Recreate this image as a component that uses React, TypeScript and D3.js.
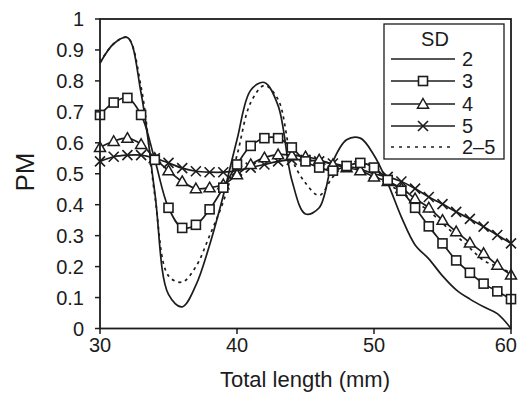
import React from "react";
import * as d3 from "d3";

const lengths = d3.range(30, 61);
const sd2 = [0.857, 0.92, 0.94, 0.76, 0.44, 0.11, 0.07, 0.14, 0.27, 0.43, 0.61, 0.77, 0.795, 0.72, 0.48, 0.37, 0.39, 0.54, 0.61, 0.615, 0.56, 0.47, 0.36, 0.27, 0.225, 0.17, 0.125, 0.095, 0.07, 0.048, 0.0];
const sd3 = [0.69, 0.73, 0.745, 0.69, 0.545, 0.39, 0.325, 0.335, 0.385, 0.455, 0.53, 0.59, 0.615, 0.615, 0.585, 0.54, 0.52, 0.51, 0.525, 0.535, 0.52, 0.48, 0.445, 0.39, 0.33, 0.275, 0.22, 0.18, 0.145, 0.12, 0.095];
const sd4 = [0.585, 0.605, 0.615, 0.595, 0.55, 0.51, 0.475, 0.452, 0.455, 0.465, 0.497, 0.53, 0.552, 0.562, 0.56, 0.555, 0.545, 0.53, 0.52, 0.51, 0.49, 0.475, 0.453, 0.42, 0.39, 0.35, 0.313, 0.277, 0.243, 0.205, 0.173];
const sd5 = [0.54, 0.555, 0.56, 0.56, 0.55, 0.535, 0.518, 0.508, 0.505, 0.505, 0.51, 0.52, 0.53, 0.54, 0.545, 0.545, 0.54, 0.533, 0.525, 0.515, 0.5, 0.49, 0.475, 0.452, 0.425, 0.402, 0.377, 0.354, 0.329, 0.302, 0.275];
const sd25 = [0.86, 0.92, 0.94, 0.78, 0.43, 0.17, 0.15, 0.2, 0.3, 0.41, 0.56, 0.73, 0.785, 0.74, 0.55, 0.47, 0.43, 0.49, 0.53, 0.54, 0.52, 0.47, 0.44, 0.41, 0.38, 0.34, 0.3, 0.26, 0.22, 0.2, 0.18];

const yTicks = [0, 0.1, 0.2, 0.3, 0.4, 0.5, 0.6, 0.7, 0.8, 0.9, 1];
const yTickLabels = ["0", "0.1", "0.2", "0.3", "0.4", "0.5", "0.6", "0.7", "0.8", "0.9", "1"];
const xTicks = [30, 40, 50, 60];
const legendTitle = "SD";
const legendLabels = ["2", "3", "4", "5", "2\u20135"];

const INK = "#1c1c1c";
const FONT = "'Liberation Sans', Arial, Helvetica, sans-serif";

type Marker = "none" | "square" | "triangle" | "cross";

function MarkerShape({ type, x, y }: { type: Marker; x: number; y: number }) {
  if (type === "square") {
    return <rect x={x - 4.5} y={y - 4.5} width={9} height={9} fill="#fff" stroke={INK} strokeWidth={1.6} />;
  }
  if (type === "triangle") {
    const s = 5.5;
    return (
      <path
        d={`M${x},${y - s}L${x + s},${y + s * 0.75}L${x - s},${y + s * 0.75}Z`}
        fill="#fff"
        stroke={INK}
        strokeWidth={1.5}
      />
    );
  }
  if (type === "cross") {
    const s = 5;
    return (
      <path d={`M${x - s},${y - s}L${x + s},${y + s}M${x - s},${y + s}L${x + s},${y - s}`} stroke={INK} strokeWidth={1.6} />
    );
  }
  return null;
}

export default function App() {
  const W = 518;
  const H = 397;
  const x = d3.scaleLinear().domain([30, 60]).range([100, 511]);
  const y = d3.scaleLinear().domain([0, 1]).range([328.5, 19]);

  const line = d3
    .line<[number, number]>()
    .x((d) => x(d[0]))
    .y((d) => y(d[1]))
    .curve(d3.curveCatmullRom.alpha(0.5));

  const series: { vals: number[]; marker: Marker; dash?: string }[] = [
    { vals: sd25, marker: "none", dash: "3,4" },
    { vals: sd2, marker: "none" },
    { vals: sd5, marker: "cross" },
    { vals: sd4, marker: "triangle" },
    { vals: sd3, marker: "square" },
  ];

  const legendItems: { marker: Marker; dash?: string }[] = [
    { marker: "none" },
    { marker: "square" },
    { marker: "triangle" },
    { marker: "cross" },
    { marker: "none", dash: "3,5" },
  ];
  const legendY = [59, 81, 104, 126, 147];

  return (
    <svg width={W} height={H} style={{ position: "absolute", left: 0, top: 0, background: "#fff" }} fontFamily={FONT}>
      <rect x={0} y={0} width={W} height={H} fill="#fff" />
      {/* series */}
      {series.map((s, i) => (
        <g key={i}>
          <path
            d={line(lengths.map((l, j) => [l, s.vals[j]] as [number, number])) || ""}
            fill="none"
            stroke={INK}
            strokeWidth={1.7}
            strokeDasharray={s.dash}
          />
          {s.marker !== "none" &&
            lengths.map((l, j) => <MarkerShape key={j} type={s.marker} x={x(l)} y={y(s.vals[j])} />)}
        </g>
      ))}
      {/* frame */}
      <rect x={100} y={19} width={411} height={309.5} fill="none" stroke={INK} strokeWidth={1.8} />
      {/* y ticks */}
      {yTicks.map((t, i) => (
        <g key={t}>
          <line x1={95} x2={100} y1={y(t)} y2={y(t)} stroke={INK} strokeWidth={1.5} />
          <text x={84} y={y(t)} dy="0.35em" textAnchor="end" fontSize={20} fill={INK}>
            {yTickLabels[i]}
          </text>
        </g>
      ))}
      {/* x ticks */}
      {xTicks.map((t, i) => (
        <g key={t}>
          <line x1={x(t)} x2={x(t)} y1={328.5} y2={334} stroke={INK} strokeWidth={1.5} />
          <text
            x={i === xTicks.length - 1 ? 517 : x(t)}
            y={352}
            textAnchor={i === xTicks.length - 1 ? "end" : "middle"}
            fontSize={20}
            fill={INK}
          >
            {t}
          </text>
        </g>
      ))}
      <text x={305} y={387} textAnchor="middle" fontSize={22} fill={INK}>
        Total length (mm)
      </text>
      <text transform="translate(34,172) rotate(-90)" textAnchor="middle" fontSize={26} fill={INK}>
        PM
      </text>
      {/* legend */}
      <rect x={384} y={24} width={120} height={135} fill="#fff" stroke={INK} strokeWidth={1.3} />
      <text x={435} y={46} textAnchor="middle" fontSize={20} fill={INK}>
        {legendTitle}
      </text>
      {legendItems.map((it, i) => (
        <g key={i}>
          <line x1={391} x2={455} y1={legendY[i]} y2={legendY[i]} stroke={INK} strokeWidth={1.6} strokeDasharray={it.dash} />
          <MarkerShape type={it.marker} x={423} y={legendY[i]} />
          <text x={462} y={legendY[i] + 7} fontSize={20} fill={INK}>
            {legendLabels[i]}
          </text>
        </g>
      ))}
    </svg>
  );
}
